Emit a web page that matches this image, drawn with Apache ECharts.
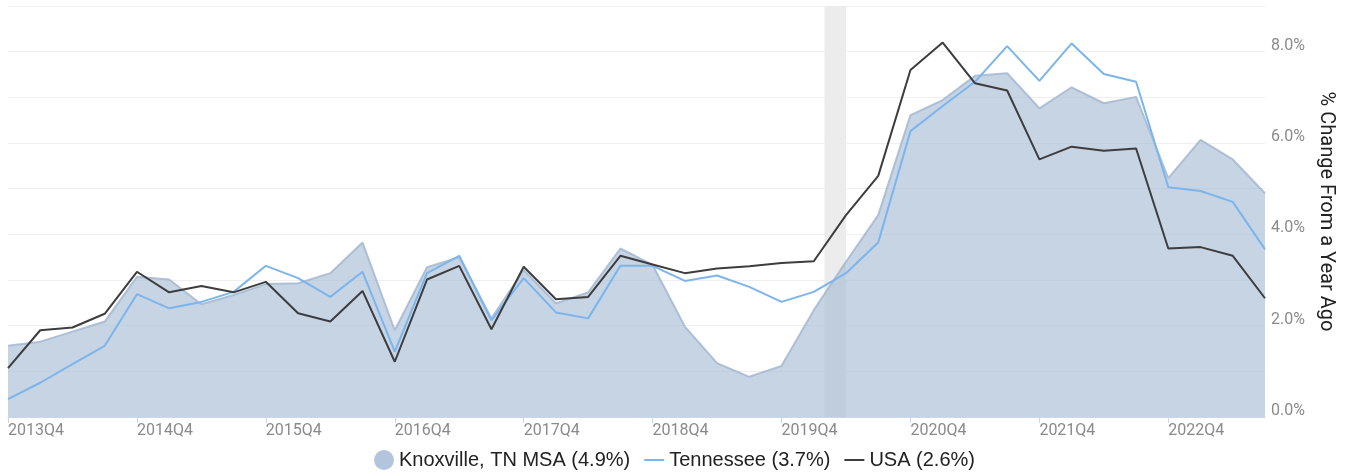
<!DOCTYPE html>
<html>
<head>
<meta charset="utf-8">
<script src="https://cdn.jsdelivr.net/npm/echarts@6/dist/echarts.min.js"></script>
<style>
  html, body { margin: 0; padding: 0; background: #fff; }
  #chart { width: 1349px; height: 475px; }
</style>
</head>
<body>
<div id="chart"></div>
<script>
// quarters 2013Q4 .. 2023Q3
const quarters = []
for (let y = 2013; y <= 2023; y++) {
  for (let q = 1; q <= 4; q++) {
    if ((y === 2013 && q < 4) || (y === 2023 && q > 3)) continue
    quarters.push(y + 'Q' + q)
  }
}

const knoxville = [1.56, 1.65, 1.87, 2.09, 3.07, 3.01, 2.47, 2.67, 2.91, 2.93,
  3.15, 3.82, 1.90, 3.28, 3.50, 2.16, 3.22, 2.49, 2.73, 3.69,
  3.33, 1.98, 1.18, 0.88, 1.12, 2.34, 3.40, 4.42, 6.61, 6.94,
  7.47, 7.53, 6.76, 7.22, 6.87, 7.01, 5.23, 6.07, 5.64, 4.90]

const tennessee = [0.39, 0.75, 1.16, 1.56, 2.69, 2.38, 2.52, 2.74, 3.31, 3.04,
  2.63, 3.18, 1.43, 3.15, 3.53, 2.12, 3.04, 2.29, 2.16, 3.31,
  3.31, 2.98, 3.10, 2.85, 2.52, 2.74, 3.15, 3.82, 6.26, 6.81,
  7.34, 8.12, 7.36, 8.18, 7.51, 7.34, 5.03, 4.95, 4.71, 3.67]

const usa = [1.07, 1.90, 1.96, 2.26, 3.18, 2.73, 2.87, 2.73, 2.96, 2.27,
  2.09, 2.76, 1.21, 3.01, 3.31, 1.92, 3.29, 2.58, 2.63, 3.53,
  3.34, 3.15, 3.25, 3.30, 3.37, 3.41, 4.42, 5.28, 7.60, 8.20,
  7.31, 7.15, 5.64, 5.92, 5.83, 5.88, 3.69, 3.72, 3.53, 2.60]

// recession band, in quarter-index units
const recession = [25.33, 26.0]

const seriesNames = ['Knoxville, TN MSA (4.9%)', 'Tennessee (3.7%)', 'USA (2.6%)']

const yMax = 9

const toPairs = (arr) => arr.map((v, i) => [i, v])

const chart = echarts.init(document.getElementById('chart'), null, { renderer: 'canvas' })

const font = 'Roboto, "Liberation Sans", sans-serif'
const legendFont = '"Liberation Sans", Arial, sans-serif'
const lineIcon = 'path://M0,0 L20,0 L20,2 L0,2 Z'

// recession shading, drawn behind the area
const renderBand = (params, api) => {
  const p0 = api.coord([api.value(0), yMax])
  const p1 = api.coord([api.value(1), 0])
  return {
    type: 'rect',
    shape: { x: p0[0], y: p0[1], width: p1[0] - p0[0], height: p1[1] - p0[1] },
    style: { fill: '#ececec' }
  }
}

chart.setOption({
  animation: false,
  backgroundColor: '#fff',
  textStyle: { fontFamily: font },
  grid: { left: 8, right: 84, top: 6, bottom: 58 },
  legend: {
    bottom: 0,
    left: 'center',
    itemWidth: 20,
    itemHeight: 20,
    itemGap: 14,
    symbolKeepAspect: true,
    textStyle: { fontSize: 20, color: '#222', fontFamily: legendFont },
    data: [
      { name: seriesNames[0], icon: 'circle', itemStyle: { color: '#b3c5dc' } },
      { name: seriesNames[1], icon: lineIcon, itemStyle: { color: '#7cb5ec' } },
      { name: seriesNames[2], icon: lineIcon, itemStyle: { color: '#3d3d3f' } }
    ]
  },
  xAxis: {
    type: 'value',
    min: 0,
    max: quarters.length - 1,
    interval: 4,
    axisLine: { show: true, lineStyle: { color: '#ccd6eb', width: 1 } },
    axisTick: { show: true, length: 6, lineStyle: { color: '#ccd6eb' } },
    splitLine: { show: false },
    axisLabel: {
      color: '#8a8a8a',
      fontSize: 16,
      align: 'left',
      margin: 6,
      showMaxLabel: false,
      formatter: (v) => quarters[v] || ''
    }
  },
  yAxis: {
    type: 'value',
    position: 'right',
    min: 0,
    max: yMax,
    interval: 1,
    name: '% Change From a Year Ago',
    nameLocation: 'middle',
    nameRotate: -90,
    nameGap: 40,
    nameTextStyle: { fontSize: 20, color: '#222' },
    axisLine: { show: false },
    axisTick: { show: false },
    splitLine: { lineStyle: { color: '#efefef', width: 1 } },
    axisLabel: {
      color: '#8a8a8a',
      fontSize: 16,
      margin: 6,
      verticalAlign: 'bottom',
      lineHeight: 12,
      formatter: (v) => (v % 2 === 0 && v <= 8) ? v.toFixed(1) + '%' : ''
    }
  },
  series: [
    {
      name: 'recession',
      type: 'custom',
      z: 1,
      silent: true,
      renderItem: renderBand,
      data: [[recession[0], recession[1]]]
    },
    {
      name: seriesNames[0],
      type: 'line',
      symbol: 'none',
      z: 2,
      data: toPairs(knoxville),
      lineStyle: { color: 'rgba(160,181,207,0.8)', width: 2 },
      itemStyle: { color: '#b3c5dc' },
      areaStyle: { color: 'rgba(168,189,213,0.65)', opacity: 1, origin: 'start' }
    },
    {
      name: seriesNames[1],
      type: 'line',
      symbol: 'none',
      z: 3,
      data: toPairs(tennessee),
      lineStyle: { color: '#7cb5ec', width: 2 },
      itemStyle: { color: '#7cb5ec' }
    },
    {
      name: seriesNames[2],
      type: 'line',
      symbol: 'none',
      z: 4,
      data: toPairs(usa),
      lineStyle: { color: '#3d3d3f', width: 2 },
      itemStyle: { color: '#3d3d3f' }
    }
  ]
})
</script>
</body>
</html>
